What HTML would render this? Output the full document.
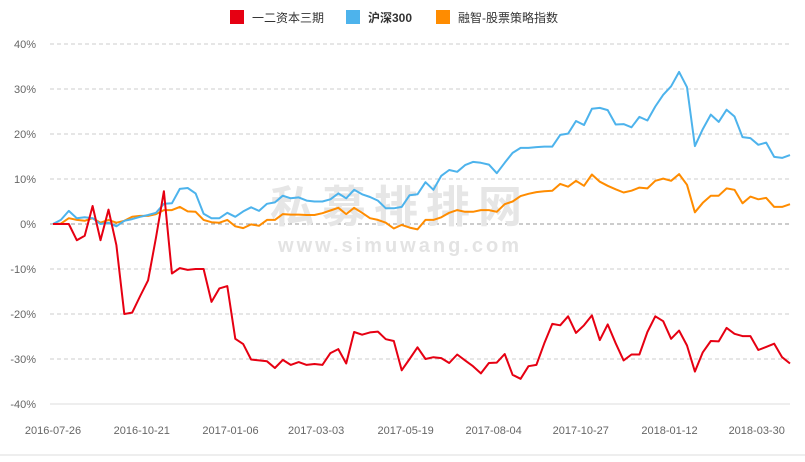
<!DOCTYPE html>
<html><head><meta charset="utf-8"><style>
body{margin:0;background:#fff;}
svg{display:block;font-family:"Liberation Sans","Noto Sans CJK SC",sans-serif;}
</style></head><body>
<svg id="chart" width="805" height="462" viewBox="0 0 805 462">
<g id="grid"></g>
<g>
<text x="400" y="222" text-anchor="middle" font-size="44" font-weight="bold" fill="#e6e6e6" letter-spacing="8" font-family="'Noto Sans CJK SC',sans-serif">私募排排网</text>
<text x="400" y="252" text-anchor="middle" font-size="20" font-weight="bold" fill="#e3e3e3" letter-spacing="3">www.simuwang.com</text>
</g>
<g id="yaxis"></g>
<g id="xaxis"></g>
<g id="series"></g>
<g font-size="12" fill="#333">
<g><rect x="230" y="10" width="14" height="14" fill="#e60012"/><text x="252" y="22">一二资本三期</text></g>
<g><rect x="346" y="10" width="14" height="14" fill="#4db3ec"/><text x="368" y="22" font-weight="bold">沪深300</text></g>
<g><rect x="436" y="10" width="14" height="14" fill="#ff8c00"/><text x="458" y="22">融智-股票策略指数</text></g>
</g>
<line x1="0" y1="455" x2="805" y2="455" stroke="#ddd" stroke-width="1"/>
</svg>
<script>
const yTicks=[40,30,20,10,0,-10,-20,-30,-40];
const xLabels=["2016-07-26","2016-10-21","2017-01-06","2017-03-03","2017-05-19","2017-08-04","2017-10-27","2018-01-12","2018-03-30"];
const xLabelIdx=[0,11.2,22.4,33.2,44.5,55.6,66.6,77.8,88.8];
const fund=[0,0,0,-3.6,-2.6,4,-3.6,3.2,-4.7,-20,-19.7,-16,-12.5,-3,7.3,-11,-9.8,-10.2,-10,-10,-17.3,-14.3,-13.8,-25.5,-26.7,-30.1,-30.3,-30.5,-32,-30.2,-31.3,-30.7,-31.3,-31.1,-31.3,-28.7,-27.8,-31,-24,-24.6,-24.1,-23.9,-25.6,-26,-32.5,-30,-27.4,-30,-29.6,-29.8,-30.9,-29,-30.3,-31.6,-33.2,-30.9,-30.8,-28.9,-33.5,-34.4,-31.6,-31.3,-26.5,-22.2,-22.5,-20.5,-24.2,-22.5,-20.3,-25.8,-22.3,-26.5,-30.3,-29,-29,-24,-20.5,-21.6,-25.5,-23.7,-27,-32.8,-28.5,-26,-26.1,-23.1,-24.4,-24.9,-24.9,-28,-27.3,-26.6,-29.6,-31];
const hs300=[0,0.9,2.9,1.3,1.5,1.3,0,0.3,-0.5,0.7,1.1,1.6,2,2.5,4.5,4.6,7.8,8,6.8,2.3,1.3,1.3,2.5,1.6,2.8,3.7,2.9,4.5,4.8,6.3,5.7,5.9,5.2,5,5,5.5,6.8,5.7,7.6,6.6,6,5.2,3.5,3.5,3.8,6.4,6.6,9.3,7.6,10.7,12,11.6,13.1,13.8,13.6,13.2,11.3,13.6,15.8,16.9,16.9,17.1,17.2,17.2,19.8,20.1,22.9,22,25.6,25.8,25.3,22.1,22.2,21.5,23.8,23,26.1,28.7,30.6,33.8,30.4,17.3,21.1,24.3,22.7,25.4,23.9,19.3,19.1,17.6,18.1,14.9,14.7,15.3];
const stratIdx=[0,0.1,1.3,0.9,0.7,1.3,0.3,0.9,0.3,0.7,1.6,1.8,1.8,2.2,3.1,3.1,3.8,2.8,2.7,0.9,0.4,0.3,0.9,-0.5,-0.9,-0.1,-0.4,0.9,0.9,2.2,2.1,2.1,2,2,2.4,3,3.6,2.2,3.6,2.5,1.3,0.9,0.3,-1,-0.2,-0.8,-1.2,0.9,0.9,1.5,2.5,3.1,2.7,2.7,3.1,3.1,2.7,4.4,5,6.2,6.7,7.1,7.3,7.4,8.9,8.3,9.6,8.5,11,9.4,8.5,7.7,7,7.4,8.1,7.9,9.6,10.1,9.6,11.1,8.7,2.6,4.7,6.3,6.3,7.9,7.6,4.6,6.1,5.5,5.8,3.8,3.8,4.4];
const NS="http://www.w3.org/2000/svg";
const X0=53,X1=790,N=fund.length;
const xS=i=>X0+(X1-X0)*i/(N-1);
const yS=v=>224-v*4.5;
function mk(t,a,p){const e=document.createElementNS(NS,t);for(const k in a)e.setAttribute(k,a[k]);p.appendChild(e);return e;}
const grid=document.getElementById('grid'),ya=document.getElementById('yaxis'),xa=document.getElementById('xaxis'),ser=document.getElementById('series');
yTicks.forEach(t=>{
  const y=yS(t);
  const l=mk('line',{x1:50,x2:790,y1:y,y2:y,stroke:t===0?'#999':(t===-40?'#ddd':'#ccc'),'stroke-width':1,'stroke-dasharray':t===-40?'none':'4,3'},grid);
  
  
  const tx=mk('text',{x:36,y:y+4,'text-anchor':'end','font-size':11,fill:'#666'},ya);
  tx.textContent=t+'%';
  
  
});
xLabels.forEach((s,k)=>{
  const tx=mk('text',{x:xS(xLabelIdx[k]),y:434,'text-anchor':'middle','font-size':11,fill:'#666'},xa);
  tx.textContent=s;
  
  
});
[[stratIdx,'#ff8c00','line-strategy-index'],[hs300,'#4db3ec','line-hs300'],[fund,'#e60012','line-fund']].forEach(([d,c,n])=>{
  const p=mk('polyline',{points:d.map((v,i)=>xS(i).toFixed(1)+','+yS(v).toFixed(1)).join(' '),fill:'none',stroke:c,'stroke-width':2,'stroke-linejoin':'round'},ser);
  
  
});
</script>
</body></html>
